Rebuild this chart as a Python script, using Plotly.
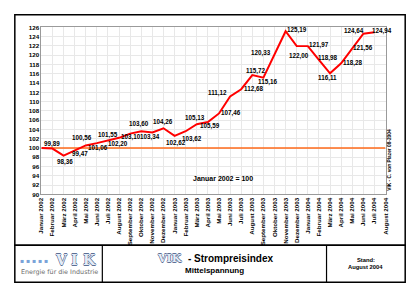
import plotly.graph_objects as go

W, H = 420, 297

months = ["Januar 2002", "Februar 2002", "März 2002", "April 2002", "Mai 2002", "Juni 2002",
          "Juli 2002", "August 2002", "September 2002", "Oktober 2002", "November 2002",
          "Dezember 2002", "Januar 2003", "Februar 2003", "März 2003", "April 2003",
          "Mai 2003", "Juni 2003", "Juli 2003", "August 2003", "September 2003",
          "Oktober 2003", "November 2003", "Dezember 2003", "Januar 2004", "Februar 2004",
          "März 2004", "April 2004", "Mai 2004", "Juni 2004", "Juli 2004", "August 2004"]

index_values = [100.00, 99.89, 98.36, 99.47, 100.56, 101.06, 101.55, 102.20, 103.10, 103.60,
                103.34, 104.26, 102.62, 103.62, 105.13, 105.59, 107.46, 111.12, 112.68,
                115.72, 115.16, 120.33, 125.19, 122.00, 121.97, 118.98, 116.11, 118.28,
                121.56, 124.64, 124.94]

BASE = 100
y_ticks = list(range(90, 127, 2))

# label offsets in pixels (dx right, dy down) relative to each point
label_dx = [0, 0, 1, 5, -4, 1, 0, -1, 1, -2, -2, 0, 1, 6, -2, 2, 12, -13, 12, 3, 4, -14, 11,
            2, 11, 9, -3, 11, 11, -9, 8]
label_dy = [0, -5, 6.5, 4, -7, 5, -6, 6, 3, -7.5, 4, -6.5, 7.5, 7.5, -6.5, 4, 0, -3, 0, -4,
            4, -1, -1, 10, -1, -2, 5, 0, 0, -3, -1.5]

FONT = "Liberation Sans, Arial, sans-serif"

x_idx = list(range(len(index_values)))

fig = go.Figure()
fig.add_trace(go.Scatter(
    x=[0, len(months) - 1], y=[BASE, BASE], mode="lines",
    line=dict(color="#ff6a1a", width=1.6), hoverinfo="skip", showlegend=False))
fig.add_trace(go.Scatter(
    x=x_idx, y=index_values, mode="lines",
    line=dict(color="#ff0000", width=2), showlegend=False))

def px(x):
    return x / W

def py(y):
    return 1 - y / H

fig.update_layout(
    width=W, height=H, margin=dict(l=0, r=0, t=0, b=0),
    paper_bgcolor="white", plot_bgcolor="white",
    xaxis=dict(domain=[px(38), px(388)], range=[0, len(months) - 1],
               tickmode="array", tickvals=list(range(len(months))), ticktext=months,
               tickangle=-90, tickfont=dict(family=FONT, size=6.2, color="#000", weight="bold"),
               showgrid=True, gridcolor="#e8e8e8", gridwidth=1, zeroline=False,
               showline=True, linecolor="#9a9a9a", linewidth=1, mirror=True, ticks="", ticklen=0),
    yaxis=dict(domain=[py(195), py(24)], range=[90, 126], tickmode="array", tickvals=y_ticks,
               tickfont=dict(family=FONT, size=6.2, color="#000", weight="bold"),
               showgrid=True, gridcolor="#e8e8e8", gridwidth=1, zeroline=False,
               showline=True, linecolor="#9a9a9a", linewidth=1, mirror=True, ticks=""),
)

shapes = [
    dict(type="rect", xref="paper", yref="paper", x0=px(11), x1=px(408), y0=py(247), y1=py(11),
         line=dict(color="#000", width=1.5)),
    dict(type="rect", xref="paper", yref="paper", x0=px(11), x1=px(408), y0=py(285), y1=py(247),
         line=dict(color="#000", width=1.5)),
    dict(type="line", xref="paper", yref="paper", x0=px(100), x1=px(100), y0=py(285), y1=py(247),
         line=dict(color="#000", width=1.2)),
    dict(type="line", xref="paper", yref="paper", x0=px(328), x1=px(328), y0=py(285), y1=py(247),
         line=dict(color="#000", width=1.2)),
]
fig.update_layout(shapes=shapes)

outline = "-0.6px 0 #5c6f94, 0.6px 0 #5c6f94, 0 -0.6px #5c6f94, 0 0.6px #5c6f94"

def ann(x, y, text, size, color="#000", weight="bold", xanchor="center", yanchor="middle",
        family=FONT, angle=0, shadow=None):
    f = dict(family=family, size=size, color=color, weight=weight)
    if shadow:
        f["shadow"] = shadow
    return dict(xref="paper", yref="paper", x=px(x), y=py(y), text=text, showarrow=False,
                font=f, xanchor=xanchor, yanchor=yanchor, textangle=angle)

annotations = []
for i, v in enumerate(index_values):
    if i == 0:
        continue
    annotations.append(dict(
        xref="x", yref="y", x=i, y=v, text=f"{v:.2f}".replace(".", ","), showarrow=False,
        xshift=label_dx[i], yshift=-label_dy[i], xanchor="center", yanchor="middle",
        font=dict(family=FONT, size=6.3, color="#000", weight="bold")))

annotations += [
    ann(223, 179, "Januar 2002 = 100", 7),
    ann(392, 159, "VIK - C. von Plazer 08-2004", 4.8, angle=-90),
    # left logo
    ann(31, 263, "▪ ▪ ▪ ▪ ▪", 6, color="#7aa3d8", weight="normal", family="DejaVu Sans"),
    ann(58, 262, "V", 14, color="#e4ecf8", family="DejaVu Serif", shadow=outline),
    ann(72, 262, "I", 14, color="#e4ecf8", family="DejaVu Serif", shadow=outline),
    ann(87, 262, "K", 14, color="#e4ecf8", family="DejaVu Serif", shadow=outline),
    ann(56, 274, "Energie für die Industrie", 6.4, color="#6b6b6b", weight="normal",
        family="DejaVu Sans"),
    # title
    ann(183, 261, "VIK", 11, color="#e4ecf8", family="DejaVu Serif", xanchor="right",
        shadow=outline),
    ann(185, 261, "- Strompreisindex", 10, xanchor="left"),
    ann(214, 273, "Mittelspannung", 8),
    # stand
    ann(368, 262, "Stand:", 5.8),
    ann(368, 269, "August 2004", 5.8),
]
fig.update_layout(annotations=annotations)

fig.write_html("out.html")
